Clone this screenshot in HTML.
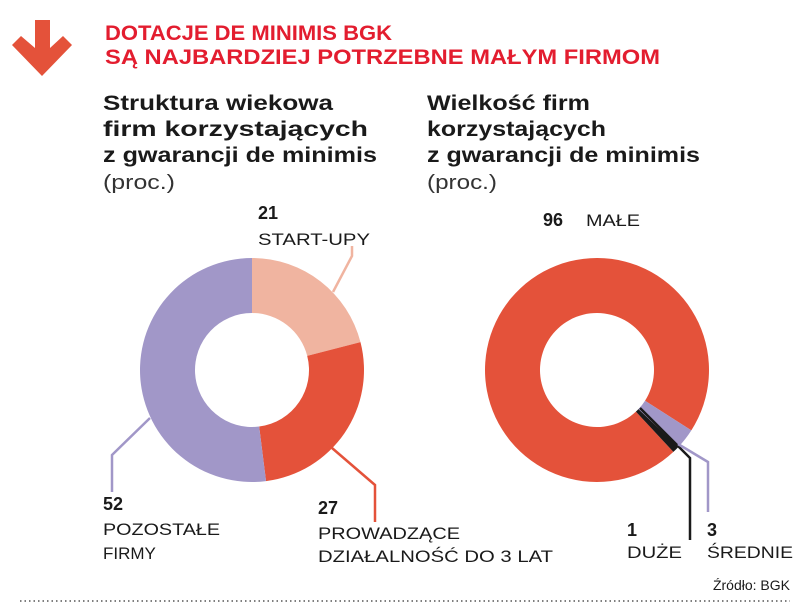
<!DOCTYPE html>
<html><head><meta charset="utf-8"><style>
body{margin:0;background:#fff;}
svg{display:block;font-family:"Liberation Sans","DejaVu Sans",sans-serif;}
.t{fill:#e31d2f;font-weight:bold;font-size:21px;}
.s{fill:#1a1a1a;font-weight:bold;font-size:21px;}
.p{fill:#333;font-size:20px;}
.n{fill:#1a1a1a;font-weight:bold;font-size:18px;}
.l{fill:#1a1a1a;font-size:17px;}
</style></head><body>
<svg id="c" width="805" height="604" viewBox="0 0 805 604">
<polygon points="35,20 50,20 50,48 63,36 72,45 42,76 12,45 21,36 35,48" fill="#e4523a"/>
<text class="t" x="105" y="40" textLength="287" lengthAdjust="spacingAndGlyphs">DOTACJE DE MINIMIS BGK</text>
<text class="t" x="105" y="64" textLength="555" lengthAdjust="spacingAndGlyphs">SĄ NAJBARDZIEJ POTRZEBNE MAŁYM FIRMOM</text>
<g>
<text class="s" x="103" y="110" textLength="230" lengthAdjust="spacingAndGlyphs">Struktura wiekowa</text>
<text class="s" x="103" y="136" textLength="265" lengthAdjust="spacingAndGlyphs">firm korzystających</text>
<text class="s" x="103" y="162" textLength="274" lengthAdjust="spacingAndGlyphs">z gwarancji de minimis</text>
<text class="p" x="103" y="189" textLength="72" lengthAdjust="spacingAndGlyphs">(proc.)</text></g>
<g>
<text class="s" x="427" y="110" textLength="163" lengthAdjust="spacingAndGlyphs">Wielkość firm</text>
<text class="s" x="427" y="136" textLength="179" lengthAdjust="spacingAndGlyphs">korzystających</text>
<text class="s" x="427" y="162" textLength="273" lengthAdjust="spacingAndGlyphs">z gwarancji de minimis</text>
<text class="p" x="427" y="189" textLength="70" lengthAdjust="spacingAndGlyphs">(proc.)</text></g>
<g id="L"></g><g id="R"></g>
<g fill="none" stroke-width="2.5">
<polyline points="333,292 352,256 352,246" stroke="#f0b4a0"/>
<polyline points="332,448 375,485 375,522" stroke="#e4523a"/>
<polyline points="150,418 112,455 112,492" stroke="#a197c8"/>
<polyline points="640,408 690,458 690,540" stroke="#1a1a1a"/>
<polyline points="678,444 708,462 708,512" stroke="#a197c8"/>
</g>
<text class="n" x="258" y="219">21</text>
<text class="l" x="258" y="245" textLength="112" lengthAdjust="spacingAndGlyphs">START-UPY</text>
<text class="n" x="103" y="510">52</text>
<text class="l" x="103" y="535" textLength="117" lengthAdjust="spacingAndGlyphs">POZOSTAŁE</text>
<text class="l" x="103" y="559">FIRMY</text>
<text class="n" x="318" y="514">27</text>
<text class="l" x="318" y="539" textLength="142" lengthAdjust="spacingAndGlyphs">PROWADZĄCE</text>
<text class="l" x="318" y="562" textLength="235" lengthAdjust="spacingAndGlyphs">DZIAŁALNOŚĆ DO 3 LAT</text>
<text class="n" x="543" y="226">96</text>
<text class="l" x="586" y="226" textLength="54" lengthAdjust="spacingAndGlyphs">MAŁE</text>
<text class="n" x="627" y="536">1</text>
<text class="l" x="627" y="558" textLength="55" lengthAdjust="spacingAndGlyphs">DUŻE</text>
<text class="n" x="707" y="536">3</text>
<text class="l" x="707" y="558" textLength="86" lengthAdjust="spacingAndGlyphs">ŚREDNIE</text>
<text x="790" y="590" text-anchor="end" style="font-size:14px;fill:#1a1a1a">Źródło: BGK</text>
<line x1="20" y1="601" x2="790" y2="601" stroke="#555" stroke-width="1.5" stroke-dasharray="1.5,3"/>
</svg>
<script>
const leftCats=["START-UPY","PROWADZĄCE","POZOSTAŁE"];
const leftVals=[21,27,52];
const leftColors=["#f0b4a0","#e4523a","#a197c8"];
const rightCats=["MAŁE","ŚREDNIE","DUŻE"];
const rightVals=[96,3,1];
const rightColors=["#e4523a","#a197c8","#1a1a1a"];
const NS="http://www.w3.org/2000/svg";
function donut(g,cx,cy,ro,ri,vals,cols,cats,start){
  const tot=vals.reduce((a,b)=>a+b,0);let a=start;
  vals.forEach((v,i)=>{
    const a2=a+v/tot*360;
    const r=d=>(d-90)*Math.PI/180;
    const p=(R,d)=>[cx+R*Math.cos(r(d)),cy+R*Math.sin(r(d))];
    const lg=(a2-a)>180?1:0;
    const [x1,y1]=p(ro,a),[x2,y2]=p(ro,a2),[x3,y3]=p(ri,a2),[x4,y4]=p(ri,a);
    const path=document.createElementNS(NS,"path");
    path.setAttribute("d",`M${x1},${y1}A${ro},${ro} 0 ${lg} 1 ${x2},${y2}L${x3},${y3}A${ri},${ri} 0 ${lg} 0 ${x4},${y4}Z`);
    path.setAttribute("fill",cols[i]);
    
    
    g.appendChild(path);a=a2;
  });
}
donut(document.getElementById("L"),252,370,112,57,leftVals,leftColors,leftCats,0);
donut(document.getElementById("R"),597,370,112,57,rightVals,rightColors,rightCats,137);
</script>
</body></html>
